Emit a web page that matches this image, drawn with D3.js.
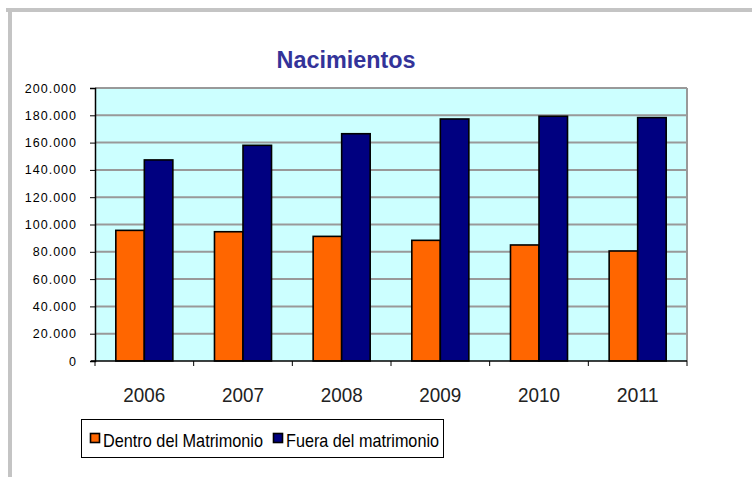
<!DOCTYPE html>
<html lang="es">
<meta charset="utf-8"/>
<style>
  body { margin: 0; background: #fff; }
  text { font-family: "Liberation Sans", Arial, sans-serif; }
</style>
<body>
<svg id="chart" width="752" height="477"></svg>

<script src="https://d3js.org/d3.v7.min.js"></script>
<script>
let years = ["2006", "2007", "2008", "2009", "2010", "2011"]
let dentro = [95700, 94700, 91300, 88400, 85000, 80600]
let fuera = [147300, 158000, 166500, 177300, 179300, 178300]
let seriesNames = ["Dentro del Matrimonio", "Fuera del matrimonio"]
let yTicks = [0, 20000, 40000, 60000, 80000, 100000, 120000, 140000, 160000, 180000, 200000]

let colors = ["#ff6600", "#000080"]
let svg = d3.select("#chart")

// page frame (grey border top and left)
svg.append("line").attr("x1", 6).attr("x2", 752).attr("y1", 10).attr("y2", 10)
  .attr("stroke", "#c4c4c4").attr("stroke-width", 4)
svg.append("line").attr("x1", 10).attr("x2", 10).attr("y1", 8).attr("y2", 477)
  .attr("stroke", "#c4c4c4").attr("stroke-width", 4)

let pLeft = 95, pRight = 687, pTop = 88, pBottom = 361

let x = d3.scaleBand().domain(years).range([pLeft, pRight])
let y = d3.scaleLinear().domain([0, 200000]).range([pBottom, pTop])

// plot background
svg.append("rect").attr("x", pLeft).attr("y", pTop)
  .attr("width", pRight - pLeft).attr("height", pBottom - pTop)
  .attr("fill", "#ccffff")

// grid
svg.append("g").selectAll("line").data(yTicks.filter(d => d > 0)).enter().append("line")
  .attr("x1", pLeft).attr("x2", pRight)
  .attr("y1", d => y(d)).attr("y2", d => y(d))
  .attr("stroke", "#999999").attr("stroke-width", 2)

// plot border (right)
svg.append("line").attr("x1", pRight).attr("x2", pRight).attr("y1", pTop).attr("y2", pBottom)
  .attr("stroke", "#999999").attr("stroke-width", 2)

let data = years.map((yr, i) => ({year: yr, values: [dentro[i], fuera[i]]}))
let inner = d3.scaleBand().domain([0, 1]).range([0, x.bandwidth()]).paddingOuter(0.73).paddingInner(0)

svg.append("g").selectAll("g").data(data).enter().append("g")
  .attr("transform", d => "translate(" + x(d.year) + ",0)")
  .selectAll("rect").data(d => d.values).enter().append("rect")
  .attr("x", (d, i) => inner(i))
  .attr("y", d => y(d))
  .attr("width", inner.bandwidth())
  .attr("height", d => pBottom - y(d))
  .attr("fill", (d, i) => colors[i])
  .attr("stroke", "#000").attr("stroke-width", 1.6)

// y axis
let yAxis = svg.append("g").attr("transform", "translate(" + pLeft + ",0)")
  .call(d3.axisLeft(y).tickValues(yTicks).tickSize(5).tickPadding(13)
    .tickFormat(d => d3.format(",")(d).replace(/,/g, ".")))
yAxis.select(".domain").attr("stroke", "#000").attr("stroke-width", 1.5)
yAxis.selectAll("text").attr("font-size", 12.5).attr("fill", "#000")
  .attr("letter-spacing", 1)
  .style("font-family", "'Liberation Sans', Arial, sans-serif")

// x axis
let xAxis = svg.append("g").attr("transform", "translate(0," + pBottom + ")")
  .call(d3.axisBottom(x).tickSize(0).tickPadding(25))
xAxis.select(".domain").remove()
svg.append("line").attr("x1", pLeft - 4).attr("x2", pRight).attr("y1", pBottom).attr("y2", pBottom)
  .attr("stroke", "#000").attr("stroke-width", 1.5)
svg.append("g").selectAll("line").data(years.concat(["end"])).enter().append("line")
  .attr("x1", (d, i) => pLeft + i * x.step()).attr("x2", (d, i) => pLeft + i * x.step())
  .attr("y1", pBottom).attr("y2", pBottom + 5)
  .attr("stroke", "#000").attr("stroke-width", 1)
xAxis.selectAll("text").attr("font-size", 20).attr("fill", "#222")
  .attr("dy", null).attr("y", 40.5)
  .attr("textLength", 42).attr("lengthAdjust", "spacingAndGlyphs")
  .style("font-family", "'Liberation Sans', Arial, sans-serif")

// title
svg.append("text").attr("x", 346).attr("y", 67.5).attr("text-anchor", "middle")
  .attr("font-size", 24.5).attr("font-weight", "bold").attr("fill", "#333399")
  .attr("textLength", 139).attr("lengthAdjust", "spacingAndGlyphs")
  .text("Nacimientos")

// legend
let lg = svg.append("g")
lg.append("rect").attr("x", 81.5).attr("y", 419.5).attr("width", 362).attr("height", 38)
  .attr("fill", "#fff").attr("stroke", "#000").attr("stroke-width", 1)
let legendX = [90, 273]
let legendW = [160, 153]
seriesNames.forEach((n, i) => {
  lg.append("rect").attr("x", legendX[i] + 0.5).attr("y", 433.5).attr("width", 9).attr("height", 9)
    .attr("fill", colors[i]).attr("stroke", "#000").attr("stroke-width", 1.6)
  lg.append("text").attr("x", legendX[i] + 13).attr("y", 446.5)
    .attr("font-size", 19).attr("fill", "#000")
    .attr("textLength", legendW[i]).attr("lengthAdjust", "spacingAndGlyphs")
    .text(n)
})
</script>
</body>
</html>
